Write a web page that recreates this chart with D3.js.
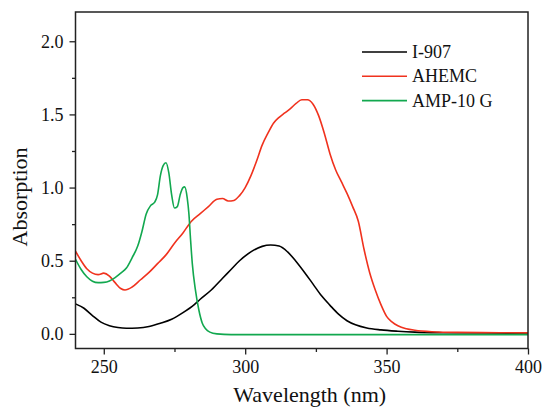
<!DOCTYPE html>
<html>
<head>
<meta charset="utf-8">
<script src="https://cdn.jsdelivr.net/npm/d3@7"></script>
<style>
  body { margin: 0; background: #fff; }
</style>
</head>
<body>
<svg id="chart" width="543" height="409"></svg>
<script>
// wavelength (nm), absorption
const i907 = [[240,0.205],[243,0.175],[246,0.125],[249,0.08],[252,0.056],[255,0.043],[258,0.038],[262,0.04],[266,0.05],[270,0.072],[274,0.1],[278,0.145],[282,0.2],[284,0.235],[288,0.3],[292,0.38],[295,0.44],[298,0.5],[302,0.56],[306,0.598],[309,0.607],[312,0.6],[315,0.56],[318,0.495],[321,0.42],[324,0.34],[327,0.26],[330,0.195],[333,0.135],[336,0.09],[339,0.062],[343,0.04],[348,0.027],[354,0.018],[360,0.012],[370,0.008],[385,0.006],[400,0.005]];

const ahemc = [[240,0.565],[242,0.5],[244,0.445],[246,0.415],[248,0.405],[250,0.415],[252,0.395],[254,0.35],[256,0.31],[257.5,0.3],[260,0.32],[263,0.37],[266,0.42],[269,0.48],[272,0.54],[275,0.62],[278,0.69],[281,0.77],[284,0.82],[287,0.87],[290,0.92],[292,0.925],[294,0.908],[296,0.912],[298,0.945],[300,1.0],[302,1.08],[304,1.18],[306,1.29],[308,1.37],[310,1.44],[312,1.48],[314,1.51],[316,1.54],[318,1.575],[320,1.6],[322,1.6],[324,1.57],[326,1.49],[328,1.37],[330,1.23],[332,1.12],[334,1.04],[336,0.96],[338,0.87],[340,0.77],[342,0.58],[344,0.42],[346,0.3],[348,0.2],[350,0.12],[352,0.08],[354,0.055],[357,0.035],[360,0.025],[366,0.015],[375,0.01],[390,0.008],[400,0.007]];

const amp10g = [[240,0.51],[242,0.44],[244,0.39],[246,0.36],[248,0.35],[250,0.352],[252,0.362],[254,0.385],[256,0.415],[258,0.45],[260,0.52],[262,0.6],[263.5,0.7],[265,0.82],[266.5,0.875],[268,0.9],[269,0.95],[270,1.08],[271,1.15],[272,1.17],[273,1.1],[274,0.95],[275,0.86],[276,0.87],[277,0.95],[278,1.0],[278.6,1.005],[279.5,0.93],[280.1,0.82],[280.7,0.64],[281.3,0.48],[282.4,0.3],[283.6,0.165],[284.8,0.075],[286,0.035],[287.5,0.012],[290,0.0],[295,-0.005],[400,-0.005]];

const seriesNames = ['I-907', 'AHEMC', 'AMP-10 G'];
const seriesColors = ['#000000', '#f0321e', '#12a84f'];
const xTicks = [250, 300, 350, 400];
const yTicks = [0, 0.5, 1.0, 1.5, 2.0];

const serif = '"Liberation Serif", "Times New Roman", Times, Tinos, "Nimbus Roman", "Nimbus Roman No9 L", "Noto Serif", "DejaVu Serif", FreeSerif, serif';

const svg = d3.select('#chart').attr('font-family', serif);
const m = {left: 75.5, right: 528, top: 12, bottom: 348.5};

const x = d3.scaleLinear().domain([240, 400]).range([m.left, m.right]);
const y = d3.scaleLinear().domain([-0.1, 2.2]).range([m.bottom, m.top]);

//// plot area, clipped ////
svg.append('clipPath').attr('id', 'clip')
  .append('rect').attr('x', m.left).attr('y', m.top)
  .attr('width', m.right - m.left).attr('height', m.bottom - m.top);

const lineGen = d3.line()
  .x(d => x(d[0]))
  .y(d => y(d[1]))
  .curve(d3.curveMonotoneX);

const plot = svg.append('g').attr('clip-path', 'url(#clip)');
[i907, ahemc, amp10g].forEach((s, i) => {
  plot.append('path').datum(s)
    .attr('d', lineGen)
    .attr('fill', 'none')
    .attr('stroke', seriesColors[i])
    .attr('stroke-width', 1.6)
    .attr('stroke-linejoin', 'round');
});

//// axes ////
const xAxis = svg.append('g').attr('transform', 'translate(0,' + m.bottom + ')')
  .call(d3.axisBottom(x).tickValues(xTicks).tickSize(6).tickPadding(6).tickFormat(d3.format('d')));
const xMinor = svg.append('g').attr('transform', 'translate(0,' + m.bottom + ')')
  .call(d3.axisBottom(x).tickValues([275, 325, 375]).tickSize(3.5).tickFormat(''));

const yAxis = svg.append('g').attr('transform', 'translate(' + m.left + ',0)')
  .call(d3.axisLeft(y).tickValues(yTicks).tickSize(6).tickPadding(6).tickFormat(d3.format('.1f')));
const yMinor = svg.append('g').attr('transform', 'translate(' + m.left + ',0)')
  .call(d3.axisLeft(y).tickValues([0.25, 0.75, 1.25, 1.75]).tickSize(3.5).tickFormat(''));

[xAxis, xMinor, yAxis, yMinor].forEach(a => {
  a.attr('font-family', serif).attr('font-size', 18);
  a.select('.domain').remove();
  a.selectAll('line').attr('stroke', '#222').attr('stroke-width', 1.3);
  a.selectAll('text').attr('fill', '#111');
});
xAxis.selectAll('text').attr('dy', '0.72em');

// frame
svg.append('rect')
  .attr('x', m.left).attr('y', m.top)
  .attr('width', m.right - m.left).attr('height', m.bottom - m.top)
  .attr('fill', 'none').attr('stroke', '#222').attr('stroke-width', 1.5);

//// titles ////
svg.append('text').text('Wavelength (nm)')
  .attr('x', (m.left + m.right) / 2 + 8).attr('y', 402)
  .attr('text-anchor', 'middle')
  .attr('font-family', serif).attr('font-size', 22).attr('fill', '#111');

svg.append('text').text('Absorption')
  .attr('transform', 'translate(27,' + 197 + ') rotate(-90)')
  .attr('text-anchor', 'middle')
  .attr('font-family', serif).attr('font-size', 22).attr('fill', '#111');

//// legend ////
const legend = svg.append('g').attr('transform', 'translate(362,52)');
const rows = legend.selectAll('g').data(seriesNames).enter().append('g')
  .attr('transform', (d, i) => 'translate(0,' + (i * 24.3) + ')');
rows.append('line').attr('x1', 0).attr('x2', 45).attr('y1', 0).attr('y2', 0)
  .attr('stroke', (d, i) => seriesColors[i]).attr('stroke-width', 1.6);
rows.append('text').text(d => d).attr('x', 50).attr('y', 6)
  .attr('font-family', serif).attr('font-size', 18).attr('fill', '#111');
</script>
</body>
</html>
